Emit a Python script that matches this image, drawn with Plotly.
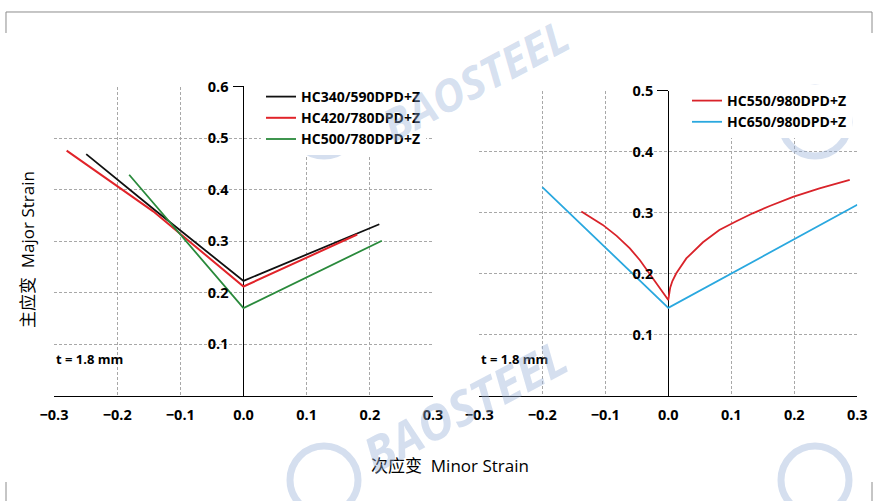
import plotly.graph_objects as go

# ---------------- data ----------------
# Left panel (minor strain, major strain)
hc340_x = [-0.249, -0.143, 0.0, 0.215]
hc340_y = [0.469, 0.363, 0.223, 0.333]
hc420_x = [-0.280, -0.143, 0.0, 0.180]
hc420_y = [0.476, 0.358, 0.212, 0.313]
hc500_x = [-0.181, 0.0, 0.219]
hc500_y = [0.429, 0.170, 0.301]
# Right panel
hc550_x = [-0.138, -0.104, -0.082, -0.061, -0.045, -0.030, -0.0086, 0.0,
           0.003, 0.0065, 0.0127, 0.0286, 0.055, 0.081, 0.108, 0.134, 0.161, 0.198, 0.240, 0.288]
hc550_y = [0.302, 0.280, 0.262, 0.2416, 0.222, 0.2006, 0.170, 0.157,
           0.177, 0.188, 0.2007, 0.225, 0.2515, 0.2716, 0.286, 0.299, 0.311, 0.326, 0.340, 0.354]
hc650_x = [-0.200, 0.0, 0.300]
hc650_y = [0.342, 0.144, 0.313]

x_ticks = [-0.3, -0.2, -0.1, 0.0, 0.1, 0.2, 0.3]
x_grid = [-0.2, -0.1, 0.1, 0.2]
x_ends = [-0.3, 0.3]
left_y_ticks = [0.1, 0.2, 0.3, 0.4, 0.5, 0.6]
right_y_ticks = [0.1, 0.2, 0.3, 0.4, 0.5]

FONT = "Open Sans, Noto Sans CJK SC, sans-serif"
BOLD = dict(family=FONT, size=14.5, color="black", weight="bold")
GRID = "#a8a8a8"
W, H = 876, 501

fig = go.Figure()
fig.add_trace(go.Scatter(x=hc340_x, y=hc340_y, mode="lines", name="HC340/590DPD+Z",
                         line=dict(color="#111111", width=1.8), xaxis="x", yaxis="y", legend="legend"))
fig.add_trace(go.Scatter(x=hc420_x, y=hc420_y, mode="lines", name="HC420/780DPD+Z",
                         line=dict(color="#e1242a", width=2), xaxis="x", yaxis="y", legend="legend"))
fig.add_trace(go.Scatter(x=hc500_x, y=hc500_y, mode="lines", name="HC500/780DPD+Z",
                         line=dict(color="#2a8a3c", width=1.8), xaxis="x", yaxis="y", legend="legend"))
fig.add_trace(go.Scatter(x=hc550_x, y=hc550_y, mode="lines", name="HC550/980DPD+Z",
                         line=dict(color="#d9232a", width=1.8), xaxis="x2", yaxis="y2", legend="legend2"))
fig.add_trace(go.Scatter(x=hc650_x, y=hc650_y, mode="lines", name="HC650/980DPD+Z",
                         line=dict(color="#2aa8df", width=1.8), xaxis="x2", yaxis="y2", legend="legend2"))

LX = [54 / W, 433 / W]
RX = [479.3 / W, 857.3 / W]
LY = [(H - 395.7) / H, (H - 86.7) / H]
RY = [(H - 395.7) / H, (H - 90.7) / H]
lpos = (LX[0] + LX[1]) / 2
rpos = (RX[0] + RX[1]) / 2

COMMON = dict(automargin=False, fixedrange=True)


def panel(xn, yn, xdom, ydom, ypos, yrange, yticks, n):
    xa = "x" + ("" if xn == 1 else str(xn))
    ya = "y" + ("" if yn == 1 else str(yn))
    lay = {}
    lay["xaxis" + ("" if xn == 1 else str(xn))] = dict(
        domain=xdom, range=[-0.3, 0.3], anchor=ya, tickvals=x_ticks, tickformat=".1f",
        showline=True, linecolor="black", linewidth=1.5, ticks="", showgrid=False,
        zeroline=True, zerolinecolor="black", zerolinewidth=1.5,
        tickfont=BOLD, ticklabelstandoff=5, **COMMON)
    lay["yaxis" + ("" if yn == 1 else str(yn))] = dict(
        domain=ydom, range=yrange, anchor="free", position=ypos, tickvals=yticks,
        tickformat=".1f", showline=False, ticks="", showgrid=False, zeroline=False,
        tickfont=BOLD, ticklabelstandoff=15, **COMMON)
    lay["xaxis%d" % n] = dict(
        domain=xdom, range=[-0.3, 0.3], overlaying=xa, anchor=ya, tickvals=x_grid,
        showticklabels=False, ticks="", showgrid=True, gridcolor=GRID, griddash="3px,2px",
        gridwidth=1, zeroline=False, showline=False, **COMMON)
    lay["yaxis%d" % n] = dict(
        domain=ydom, range=yrange, overlaying=ya, anchor=xa, tickvals=yticks[:-1],
        showticklabels=False, ticks="", showgrid=True, gridcolor=GRID, griddash="3px,2px",
        gridwidth=1, zeroline=False, showline=False, **COMMON)
    lay["xaxis%d" % (n + 1)] = dict(
        domain=xdom, range=[-0.3, 0.3], overlaying=xa, anchor=ya, tickvals=x_ends,
        showticklabels=False, ticks="inside", ticklen=11, tickwidth=1.5, tickcolor="black",
        showgrid=False, zeroline=False, showline=False, **COMMON)
    lay["yaxis%d" % (n + 1)] = dict(
        domain=ydom, range=yrange, overlaying=ya, anchor="free", position=ypos,
        tickvals=[yrange[1]], showticklabels=False, ticks="outside", ticklen=11,
        tickwidth=1.5, tickcolor="black", showgrid=False, zeroline=False, showline=False,
        **COMMON)
    lay["yaxis%d" % (n + 2)] = dict(
        domain=ydom, range=yrange, overlaying=ya, anchor="free", position=ypos,
        tickvals=[yrange[1]], showticklabels=False, ticks="inside", ticklen=11,
        tickwidth=1.5, tickcolor="black", showgrid=False, zeroline=False, showline=False,
        **COMMON)
    pairs = [("x%d" % n, ya), ("x%d" % (n + 1), ya), (xa, "y%d" % n),
             (xa, "y%d" % (n + 1)), (xa, "y%d" % (n + 2))]
    return lay, pairs


layout = {}
l1, p1 = panel(1, 1, LX, LY, lpos, [0, 0.6], left_y_ticks, 3)
l2, p2 = panel(2, 2, RX, RY, rpos, [0, 0.5], right_y_ticks, 6)
layout.update(l1)
layout.update(l2)
for xa, ya in p1 + p2:
    fig.add_trace(go.Scatter(x=[None], y=[None], mode="lines", xaxis=xa, yaxis=ya,
                             showlegend=False, hoverinfo="skip"))

fig.update_layout(**layout)

legend_common = dict(bgcolor="white", borderwidth=0,
                     font=dict(family=FONT, size=14, color="black", weight="bold"),
                     xanchor="left", yanchor="top", tracegroupgap=0)
fig.update_layout(
    template="plotly",
    width=W, height=H, autosize=False,
    margin=dict(l=0, r=0, t=0, b=0, pad=0),
    paper_bgcolor="white", plot_bgcolor="rgba(0,0,0,0)",
    font=dict(family=FONT, color="black"),
    legend=dict(x=261 / W, y=(H - 81) / H, **legend_common),
    legend2=dict(x=687 / W, y=(H - 85) / H, **legend_common),
    showlegend=True,
)


def px(x):
    return x / W


def py(y):
    return (H - y) / H


annotations = []
for x0 in (LX[0], RX[0]):
    annotations.append(dict(text="t = 1.8 mm", x=x0, y=py(359), xref="paper", yref="paper",
                            showarrow=False, xanchor="left", yanchor="middle",
                            font=dict(family=FONT, size=13, color="black", weight="bold")))
annotations.append(dict(text="主应变  Major Strain", x=px(27), y=py(250), xref="paper",
                        yref="paper", showarrow=False, textangle=-90, xanchor="center",
                        yanchor="middle", font=dict(family=FONT, size=17, color="black")))
annotations.append(dict(text="次应变  Minor Strain", x=px(450), y=py(465), xref="paper",
                        yref="paper", showarrow=False, xanchor="center", yanchor="middle",
                        font=dict(family=FONT, size=17, color="black")))

# ---- watermark (BAOSTEEL logo rings + text) ----
WM = "rgba(150,175,215,0.40)"
logo_cols = [-162, 324, 815]
logo_rows = [122, 480]
shapes = []
for ly in logo_rows:
    for lx in logo_cols:
        shapes.append(dict(type="circle", xref="paper", yref="paper",
                           x0=px(lx - 34), x1=px(lx + 34), y0=py(ly + 34), y1=py(ly - 34),
                           line=dict(color=WM, width=7)))
for cx, cy, fs in ((475, 80, 44), (464, 405, 48)):
    annotations.append(dict(text="<i>BAOSTEEL</i>", x=px(cx), y=py(cy),
                            xref="paper", yref="paper", showarrow=False, textangle=-28,
                            xanchor="center", yanchor="middle",
                            font=dict(family=FONT, size=fs, color=WM, weight="bold")))

# ---- frame bracket ----
FR = "#8c8c8c"
shapes.append(dict(type="path", xref="paper", yref="paper",
                   path="M %f %f L %f %f L %f %f L %f %f" % (px(6), py(33), px(6), py(12),
                                                             px(872), py(12), px(872), py(33)),
                   line=dict(color=FR, width=1)))
shapes.append(dict(type="line", xref="paper", yref="paper", x0=px(6), x1=px(6),
                   y0=py(482), y1=py(501), line=dict(color=FR, width=1)))
shapes.append(dict(type="line", xref="paper", yref="paper", x0=px(872), x1=px(872),
                   y0=py(482), y1=py(501), line=dict(color=FR, width=1)))

fig.update_layout(annotations=annotations, shapes=shapes)

fig.write_html("out.html", include_plotlyjs=True, config={"staticPlot": True},
               post_script="document.body.style.margin='0';document.body.style.overflow='hidden';")
